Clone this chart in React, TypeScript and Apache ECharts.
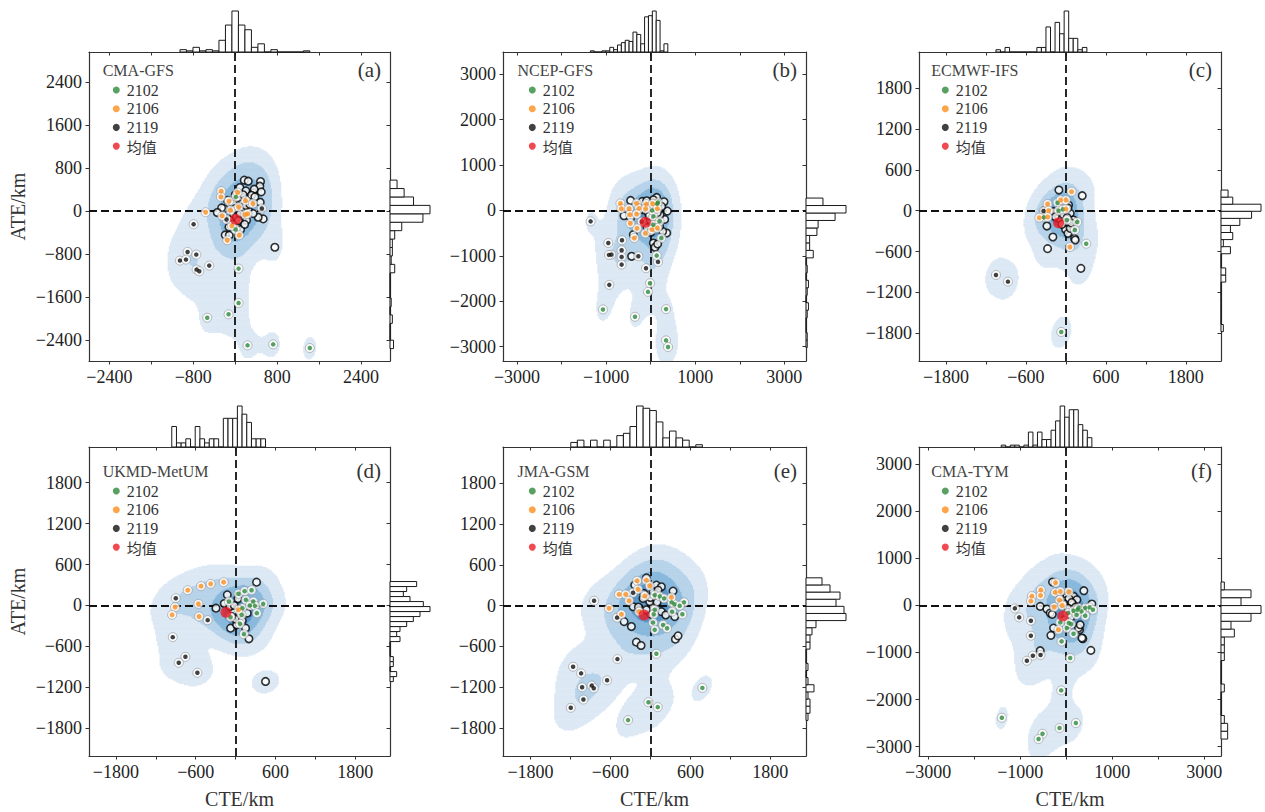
import React, { useEffect, useRef } from "react";
import * as echarts from "echarts";

// ---------------- panel meta ----------------
const panelNames = ["CMA-GFS", "NCEP-GFS", "ECMWF-IFS", "UKMD-MetUM", "JMA-GSM", "CMA-TYM"];
const panelTags = ["(a)", "(b)", "(c)", "(d)", "(e)", "(f)"];
const axisMin = [-2790, -3315, -2205, -2205, -2212, -3200];
const axisMax = [2953, 3487, 2328, 2322, 2335, 3365];
const ticks2400 = [-2400, -1600, -800, 0, 800, 1600, 2400];
const ticks3000 = [-3000, -2000, -1000, 0, 1000, 2000, 3000];
const ticks1800 = [-1800, -1200, -600, 0, 600, 1200, 1800];
const xLabels2400 = [-2400, -800, 800, 2400];
const xLabels3000 = [-3000, -1000, 1000, 3000];
const xLabels1800 = [-1800, -600, 600, 1800];
const panelTicks = [ticks2400, ticks3000, ticks1800, ticks1800, ticks1800, ticks3000];
const panelXLabels = [xLabels2400, xLabels3000, xLabels1800, xLabels1800, xLabels1800, xLabels3000];

// ---------------- (a) CMA-GFS ----------------
const a2102 = [[64, -1073], [64, -1712], [-127, -1922], [-534, -1985], [235, -2499], [724, -2481], [1423, -2549], [6, -347], [13, 260]];
const a2106 = [[-267, 366], [-273, 260], [-121, 180], [44, 341], [197, 192], [337, 136], [64, 74], [-565, -25], [-89, 12], [-248, -93], [191, -68], [235, -56], [-64, -279], [76, -453], [-152, -546]];
const a2119Dots = [[-794, -248], [-909, -763], [-1055, -924], [-940, -905], [-743, -812], [-737, -1091], [-686, -1122], [-496, -1017], [508, 43], [-165, -160]];
const a2119Rings = [[172, 571], [248, 552], [483, 546], [470, 459], [89, 434], [203, 372], [343, 335], [496, 353], [362, 403], [267, 217], [477, 161], [534, -149], [438, -118], [756, -676], [-216, 43], [-260, 56], [-343, -31], [-146, 198], [-38, 136], [152, 12], [248, 25], [133, -143], [216, -174], [-191, -447], [-114, -453], [38, -298], [102, -347], [-38, -50], [-102, -174], [25, -112], [89, -50], [311, 291], [375, 260], [-6, 43], [121, 198], [343, -50], [0, 300], [60, 250], [150, 300], [200, 100], [280, 120], [-60, -250], [60, -180], [180, -250], [-120, -300]];
const aMean = [[6, -155]];
const aHistXCounts = [2, 1, 4, 1, 2, 1, 10, 23, 35, 23, 19, 4, 7, 0, 2, 0, 0, 0, 0, 1];
const aHistYCounts = [3, 0, 0, 2, 0, 1, 0, 0, 0, 4, 1, 2, 2, 4, 10, 28, 34, 20, 12, 6];

// ---------------- (b) NCEP-GFS ----------------
const b2102 = [[345, -2173], [-352, -2341], [-1071, -2180], [345, -2861], [390, -3007], [-15, -1602], [-60, -1793], [135, -995], [240, -607], [165, 176], [60, -132], [60, -315], [146, 147], [34, 0], [200, -240]];
const b2106 = [[-679, 154], [-657, 37], [-485, 37], [-315, 154], [-262, 44], [-97, 139], [45, 146], [150, 37], [-464, -95], [-315, -80], [-112, 37], [-367, -607], [-120, -505], [-307, -395], [30, -424], [150, -388], [-457, -285]];
const b2119Dots = [[-1348, -241], [-951, -717], [-884, -973], [-936, -980], [-644, -658], [-652, -878], [-652, -1024], [-652, -1193], [-277, -1010], [-105, -1273], [165, -1134], [-929, -1639], [-200, -250]];
const b2119Rings = [[-450, 219], [-427, -1010], [-187, 198], [135, 285], [300, 190], [375, -15], [315, -198], [360, -497], [270, -461], [60, -717], [97, -812], [157, -739], [-599, -117], [-450, -168], [-390, -534], [-165, 15], [-52, -58], [-15, -205], [97, -227], [210, -95], [60, 234], [-240, 15], [-90, 212], [247, 88], [0, 100], [50, 50], [100, 120], [150, -50], [-30, -120], [100, -300], [200, -350], [-80, -380], [0, -480]];
const bMean = [[-120, -263]];
const bHistXCounts = [1, 0, 0, 1, 1, 4, 2, 6, 8, 10, 9, 17, 15, 7, 30, 31, 35, 27, 1, 7];
const bHistYCounts = [1, 1, 0, 0, 1, 2, 0, 1, 2, 0, 1, 0, 6, 3, 3, 9, 10, 24, 33, 14];

// ---------------- (c) ECMWF-IFS ----------------
const c2102 = [[-70, -1779], [305, -484], [170, -166], [135, -283], [15, -137], [-125, 117], [-110, 0], [-45, 20], [-330, -98]];
const c2106 = [[85, 279], [-80, 156], [0, 156], [-275, 98], [-260, 0], [-400, -103], [-275, -93], [60, -533], [0, 24]];
const c2119Dots = [[-1050, -943], [-870, -1041], [-335, -5]];
const c2119Rings = [[-105, 303], [245, 220], [-325, 0], [-285, -225], [-195, -386], [-275, -557], [-5, -274], [30, -332], [130, -406], [140, -430], [225, -846], [65, -259], [-135, -39], [-185, -15], [-85, 59], [40, 83], [65, -39], [115, -137], [-110, -112], [-160, -88], [-40, -60], [20, -100], [80, -180], [-60, -200], [30, 40], [-20, 120]];
const cMean = [[-110, -176]];
const cHistXCounts = [1, 0, 2, 0, 0, 0, 0, 0, 0, 2, 2, 11, 0, 13, 8, 18, 6, 6, 1, 2];
const cHistYCounts = [1, 0, 0, 0, 0, 0, 0, 2, 2, 0, 0, 4, 1, 5, 4, 8, 13, 17, 5, 3];

// ---------------- (d) UKMD-MetUM ----------------
const d2102 = [[45, 171], [135, 210], [240, 224], [-100, 59], [155, 83], [265, 59], [415, 24], [100, -39], [215, 0], [290, -5], [320, -112], [90, -137], [-75, -171], [65, -268], [125, -420]];
const d2106 = [[-180, 342], [-375, 317], [-520, 283], [-720, 224], [-560, 24], [-910, -24], [-955, -137], [-550, -161], [45, -63]];
const d2119Dots = [[-900, 107], [-420, -215], [-945, -464], [-755, -752], [-855, -839], [-575, -986]];
const d2119Rings = [[315, 342], [-125, 156], [-295, -39], [-170, 29], [35, 98], [175, -112], [150, -332], [-75, -332], [15, -283], [200, -488], [450, -1113], [-35, -88], [-85, -15], [-20, 0], [60, -120], [0, -200], [-60, -160], [100, -220]];
const dMean = [[-145, -98]];
const dHistXCounts = [5, 1, 1, 2, 0, 5, 2, 1, 2, 2, 0, 7, 7, 7, 10, 8, 6, 2, 2, 2];
const dHistYCounts = [1, 2, 0, 1, 1, 0, 0, 0, 3, 2, 3, 5, 7, 9, 12, 10, 6, 4, 5, 8];

// ---------------- (e) JMA-GSM ----------------
const e2102 = [[90, -708], [-30, -1420], [110, -1493], [-335, -1684], [780, -1210], [65, 156], [140, 137], [205, 107], [320, 49], [360, 20], [505, 49], [480, -127], [325, -88], [65, -59], [50, -127], [40, -249], [65, -356], [190, -283], [250, -332], [440, 0]];
const e2106 = [[-200, 366], [-60, 376], [-10, 293], [-185, 239], [-470, 166], [-370, 166], [-320, 73], [-85, 142], [-620, -39], [-435, -127], [-170, -88], [315, 122]];
const e2119Dots = [[-845, 73], [-495, -786], [-1160, -898], [-1040, -996], [-1025, -1201], [-880, -1176], [-850, -1215], [-650, -1098], [-1005, -1381], [-1195, -1503], [-500, -176], [-260, 190]];
const e2119Rings = [[-210, -537], [-140, -586], [375, -493], [415, -444], [-395, -234], [-285, -307], [340, 215], [-60, 410], [90, 303], [165, 278], [-235, 303], [-260, -15], [-160, -88], [40, -15], [165, -88], [230, -137], [365, -161], [-10, 59], [-110, 107], [40, 205], [115, 229], [-100, 180], [0, 120], [-180, -20], [100, 50], [0, -120], [-60, -60]];
const eMean = [[-95, -137]];
const eHistXCounts = [2, 3, 0, 3, 0, 3, 0, 5, 6, 9, 18, 17, 16, 11, 4, 7, 4, 3, 0, 1];
const eHistYCounts = [1, 2, 2, 1, 4, 1, 0, 1, 0, 0, 2, 2, 3, 5, 20, 19, 15, 17, 12, 8];

// ---------------- (f) CMA-TYM ----------------
const f2102 = [[-109, -1806], [-1399, -2387], [-145, -2606], [210, -2500], [-514, -2727], [-601, -2840], [87, -1119], [-101, -765], [-130, -361], [14, -482], [159, -602], [43, -163], [159, -113], [268, -57], [413, -57], [507, -42], [580, -92], [413, -220], [333, -127], [225, -198], [101, -397], [58, -375], [246, -92]];
const f2106 = [[-232, 482], [-551, 326], [-558, 212], [-746, 198], [-768, 92], [-239, 276], [-130, 297], [58, 290], [-145, 113], [-261, -35], [-87, 0], [-167, -517]];
const f2119Dots = [[-1116, -64], [-1022, -255], [-768, -326], [-768, -644], [-725, -1069], [-855, -1176], [-558, -1055]];
const f2119Rings = [[-297, 496], [384, 312], [-565, -21], [-420, -78], [-348, -163], [-304, -191], [-275, -482], [-333, -637], [290, -517], [362, -708], [341, -694], [536, -956], [-565, -963], [558, 28], [87, 227], [159, 191], [232, 120], [-22, 156], [268, -482], [304, -411], [-130, 156], [159, 14], [87, 85], [14, 191], [0, 100], [60, 150], [120, 60], [-60, 40], [200, -40], [40, -60], [100, -250], [-30, -300]];
const fMean = [[-72, -227]];
const fHistXCounts = [1, 0, 1, 1, 0, 1, 8, 1, 8, 4, 4, 9, 14, 22, 16, 20, 20, 12, 9, 5];
const fHistYCounts = [2, 2, 1, 0, 0, 0, 1, 0, 0, 0, 1, 1, 1, 4, 3, 9, 12, 6, 9, 1];

// histogram bin starts / widths (data units)
const histXStart = [-1054, -1353, -1050, -960, -1195, -1413];
const histXWidth = [123.9, 86.9, 68.25, 70.5, 98.75, 98.55];
const histYStart = [-2560, -3020, -1774, -1115, -1688, -2840];
const histYWidth = [156.6, 164.6, 103.85, 73.3, 104.9, 166.85];

const panels = [
  { s2102: a2102, s2106: a2106, dots: a2119Dots, rings: a2119Rings, mean: aMean, hx: aHistXCounts, hy: aHistYCounts },
  { s2102: b2102, s2106: b2106, dots: b2119Dots, rings: b2119Rings, mean: bMean, hx: bHistXCounts, hy: bHistYCounts },
  { s2102: c2102, s2106: c2106, dots: c2119Dots, rings: c2119Rings, mean: cMean, hx: cHistXCounts, hy: cHistYCounts },
  { s2102: d2102, s2106: d2106, dots: d2119Dots, rings: d2119Rings, mean: dMean, hx: dHistXCounts, hy: dHistYCounts },
  { s2102: e2102, s2106: e2106, dots: e2119Dots, rings: e2119Rings, mean: eMean, hx: eHistXCounts, hy: eHistYCounts },
  { s2102: f2102, s2106: f2106, dots: f2119Dots, rings: f2119Rings, mean: fMean, hx: fHistXCounts, hy: fHistYCounts },
];

// ---------------- styles / layout ----------------
const SERIF = "Liberation Serif";
const CJK = "Noto Sans CJK SC";
const GREEN = "#2f8a3b";
const ORANGE = "#ff8f1c";
const BLACK = "#111111";
const RED = "#ec1c24";
const KDE_COLORS = ["#dce9f5", "#b7d3ea", "#88b9dc", "#5895c8"];
const ISO_PROPS = [0.05, 0.2875, 0.525, 0.7625];
const colLeft = [89, 503, 919];
const colW = [301, 303, 302];
const rowTop = [52, 447];
const boxH = 309;
const histH = 42;
const histW = 41;
const legendDx = [23.8, 25.8, 22.8];
const titleDx = [13.7, 14.5, 12.3];

const fmt = (v: number) => (v < 0 ? "\u2212" + Math.abs(v) : String(v));
const legendRich = {
  t: { fontFamily: SERIF, fontSize: 16, color: "#333", padding: [0, 0, 0, 2] },
  c: { fontFamily: CJK, fontSize: 15, color: "#333", padding: [0, 0, 0, 2] },
};

// Gaussian KDE (Scott's rule, full covariance) -> filled iso-proportion bands as row runs
function kdeRuns(pts: number[][], lo: number, hi: number): number[][] {
  const n = pts.length;
  let mx = 0, my = 0;
  pts.forEach((p) => { mx += p[0]; my += p[1]; });
  mx /= n; my /= n;
  let sxx = 0, syy = 0, sxy = 0;
  pts.forEach((p) => {
    const dx = p[0] - mx, dy = p[1] - my;
    sxx += dx * dx; syy += dy * dy; sxy += dx * dy;
  });
  sxx /= n - 1; syy /= n - 1; sxy /= n - 1;
  const f2 = Math.pow(n, -1 / 3);
  const a = sxx * f2, b = sxy * f2, c = syy * f2;
  const det = a * c - b * b;
  const ia = c / det, ib = -b / det, ic = a / det;
  const N = 260;
  const step = (hi - lo) / N;
  const dens = new Float64Array(N * N);
  for (let j = 0; j < N; j++) {
    const y = lo + (j + 0.5) * step;
    for (let i = 0; i < N; i++) {
      const x = lo + (i + 0.5) * step;
      let s = 0;
      for (let k = 0; k < n; k++) {
        const dx = x - pts[k][0], dy = y - pts[k][1];
        const q = ia * dx * dx + 2 * ib * dx * dy + ic * dy * dy;
        if (q < 40) s += Math.exp(-0.5 * q);
      }
      dens[j * N + i] = s;
    }
  }
  const sorted = Array.from(dens).sort((u, v) => v - u);
  let total = 0;
  sorted.forEach((v) => (total += v));
  const levels = ISO_PROPS.map((p) => {
    const target = (1 - p) * total;
    let cum = 0;
    for (let i = 0; i < sorted.length; i++) {
      cum += sorted[i];
      if (cum >= target) return sorted[i];
    }
    return sorted[sorted.length - 1];
  });
  const runs: number[][] = [];
  levels.forEach((lev, k) => {
    for (let j = 0; j < N; j++) {
      let i = 0;
      while (i < N) {
        if (dens[j * N + i] >= lev) {
          const i0 = i;
          while (i < N && dens[j * N + i] >= lev) i++;
          runs.push([lo + i0 * step, lo + i * step, lo + j * step, lo + (j + 1) * step, k]);
        } else i++;
      }
    }
  });
  return runs;
}

const renderKde = (params: any, api: any) => {
  const p0 = api.coord([api.value(0), api.value(3)]);
  const p1 = api.coord([api.value(1), api.value(2)]);
  return {
    type: "rect",
    shape: { x: p0[0], y: p0[1], width: p1[0] - p0[0], height: p1[1] - p0[1] + 0.6 },
    style: { fill: KDE_COLORS[api.value(4)] },
  };
};

const renderHistTop = (params: any, api: any) => {
  const a = api.coord([api.value(0), api.value(2)]);
  const b = api.coord([api.value(1), 0]);
  return {
    type: "rect",
    shape: { x: a[0], y: a[1], width: b[0] - a[0], height: b[1] - a[1] },
    style: { fill: "#fff", stroke: "#1a1a1a", lineWidth: 1 },
  };
};

const renderHistRight = (params: any, api: any) => {
  const a = api.coord([0, api.value(2)]);
  const b = api.coord([api.value(0), api.value(1)]);
  return {
    type: "rect",
    shape: { x: a[0], y: a[1], width: b[0] - a[0], height: b[1] - a[1] },
    style: { fill: "#fff", stroke: "#1a1a1a", lineWidth: 1 },
  };
};

function buildOption() {
  const grid: any[] = [], xAxis: any[] = [], yAxis: any[] = [], series: any[] = [], legend: any[] = [], title: any[] = [];
  const spine = { show: true, onZero: false, lineStyle: { color: "#333", width: 1.2 } };
  panels.forEach((P, p) => {
    const r = Math.floor(p / 3), c = p % 3;
    const L = colLeft[c], T = rowTop[r], W = colW[c];
    const lo = axisMin[p], hi = axisMax[p];
    const g0 = grid.length;
    grid.push({ left: L, top: T, width: W, height: boxH });
    grid.push({ left: L, top: T - histH, width: W, height: histH });
    grid.push({ left: L + W, top: T, width: histW, height: boxH });
    const xi = xAxis.length, yi = yAxis.length;
    const labelStyle = { fontSize: 18, fontFamily: SERIF, color: "#222", formatter: fmt };
    const tickStyle = { show: true, length: 3.5, lineStyle: { color: "#333", width: 1 }, customValues: panelTicks[p] };
    xAxis.push({
      type: "value", gridIndex: g0, min: lo, max: hi, position: "bottom",
      axisLine: spine, axisTick: { ...tickStyle, inside: false },
      axisLabel: { ...labelStyle, margin: 7, customValues: panelXLabels[p] },
      splitLine: { show: false },
      name: r === 1 ? "CTE/km" : "", nameLocation: "middle", nameGap: 33,
      nameTextStyle: { fontSize: 20, fontFamily: SERIF, color: "#333" },
    });
    xAxis.push({
      type: "value", gridIndex: g0, min: lo, max: hi, position: "top",
      axisLine: spine, axisTick: { ...tickStyle, inside: true },
      axisLabel: { show: false }, splitLine: { show: false },
    });
    const hxMax = Math.max(...P.hx), hyMax = Math.max(...P.hy);
    xAxis.push({ type: "value", gridIndex: g0 + 1, min: lo, max: hi, show: false });
    xAxis.push({ type: "value", gridIndex: g0 + 2, min: 0, max: (hyMax * histW) / 40, show: false });
    yAxis.push({
      type: "value", gridIndex: g0, min: lo, max: hi, position: "left",
      axisLine: spine, axisTick: { ...tickStyle, inside: false },
      axisLabel: { ...labelStyle, margin: 7, customValues: panelTicks[p] },
      splitLine: { show: false },
      name: c === 0 ? "ATE/km" : "", nameLocation: "middle", nameGap: 61,
      nameTextStyle: { fontSize: 20, fontFamily: SERIF, color: "#333" },
    });
    yAxis.push({
      type: "value", gridIndex: g0, min: lo, max: hi, position: "right",
      axisLine: spine, axisTick: { ...tickStyle, inside: true },
      axisLabel: { show: false }, splitLine: { show: false },
    });
    yAxis.push({ type: "value", gridIndex: g0 + 1, min: 0, max: (hxMax * histH) / 41, show: false });
    yAxis.push({ type: "value", gridIndex: g0 + 2, min: lo, max: hi, show: false });

    const all = [...P.s2102, ...P.s2106, ...P.dots, ...P.rings];
    series.push({
      type: "custom", name: "kde", xAxisIndex: xi, yAxisIndex: yi, clip: true, silent: true, z: 1,
      data: kdeRuns(all, lo, hi), encode: { x: [0, 1], y: [2, 3] }, renderItem: renderKde,
      markLine: {
        silent: true, symbol: ["none", "none"], label: { show: false },
        lineStyle: { color: "#111", type: [8, 4], width: 1.8 },
        data: [{ xAxis: 0 }, { yAxis: 0 }],
      },
    });
    series.push({
      type: "scatter", name: "2119", xAxisIndex: xi, yAxisIndex: yi, data: P.rings, symbol: "circle",
      symbolSize: 7.5, itemStyle: { color: "#fff", borderColor: "#000", borderWidth: 1.6 }, z: 6, silent: true,
    });
    series.push({
      type: "scatter", name: "halo", xAxisIndex: xi, yAxisIndex: yi, data: [...P.dots, ...P.s2102, ...P.s2106],
      symbol: "circle", symbolSize: 9, itemStyle: { color: "#fff", borderColor: "#8a8a8a", borderWidth: 0.7 }, z: 7, silent: true,
    });
    series.push({ type: "scatter", name: "2119", xAxisIndex: xi, yAxisIndex: yi, data: P.dots, symbol: "circle", symbolSize: 4.5, itemStyle: { color: BLACK }, z: 8, silent: true });
    series.push({ type: "scatter", name: "2102", xAxisIndex: xi, yAxisIndex: yi, data: P.s2102, symbol: "circle", symbolSize: 4.5, itemStyle: { color: GREEN }, z: 8, silent: true });
    series.push({ type: "scatter", name: "2106", xAxisIndex: xi, yAxisIndex: yi, data: P.s2106, symbol: "circle", symbolSize: 5, itemStyle: { color: ORANGE }, z: 8, silent: true });
    series.push({ type: "scatter", name: "均值", xAxisIndex: xi, yAxisIndex: yi, data: P.mean, symbol: "circle", symbolSize: 11, itemStyle: { color: RED }, z: 9, silent: true });

    series.push({
      type: "custom", name: "histX", xAxisIndex: xi + 2, yAxisIndex: yi + 2, silent: true,
      data: P.hx.map((cnt, i) => [histXStart[p] + i * histXWidth[p], histXStart[p] + (i + 1) * histXWidth[p], cnt]),
      encode: { x: [0, 1], y: 2 }, renderItem: renderHistTop,
    });
    series.push({
      type: "custom", name: "histY", xAxisIndex: xi + 3, yAxisIndex: yi + 3, silent: true,
      data: P.hy.map((cnt, i) => [cnt, histYStart[p] + i * histYWidth[p], histYStart[p] + (i + 1) * histYWidth[p]]),
      encode: { x: 0, y: [1, 2] }, renderItem: renderHistRight,
    });

    legend.push({
      orient: "vertical", left: L + legendDx[c], top: T + (r ? 36 : 30), padding: 0,
      itemWidth: 7, itemHeight: 7, itemGap: 2.7, selectedMode: false, icon: "circle",
      formatter: (name: string) => (/^\d+$/.test(name) ? "{t|" + name + "}" : "{c|" + name + "}"),
      textStyle: { fontSize: 16, lineHeight: 16, fontFamily: SERIF, color: "#333", rich: legendRich },
      data: [
        { name: "2102", itemStyle: { color: GREEN, borderWidth: 0 } },
        { name: "2106", itemStyle: { color: ORANGE, borderWidth: 0 } },
        { name: "2119", itemStyle: { color: BLACK, borderWidth: 0 } },
        { name: "均值", itemStyle: { color: RED, borderWidth: 0 } },
      ],
    });
    title.push({
      text: panelNames[p], left: L + titleDx[c], top: T + (r ? 16 : 10), padding: 0,
      textStyle: { fontSize: 16, fontWeight: "normal", fontFamily: SERIF, color: "#444" },
    });
    title.push({
      text: panelTags[p], right: 1265 - (L + W - 9), top: T + (r ? 13 : 7), padding: 0,
      textStyle: { fontSize: 21, fontWeight: "normal", fontFamily: SERIF, color: "#333" },
    });
  });
  return {
    animation: false, backgroundColor: "#fff",
    textStyle: { fontFamily: SERIF },
    grid, xAxis, yAxis, series, legend, title,
  };
}

export default function App() {
  const ref = useRef<HTMLDivElement>(null);
  useEffect(() => {
    if (!ref.current) return;
    const chart = echarts.init(ref.current, undefined, { renderer: "svg" });
    chart.setOption(buildOption() as any);
    return () => chart.dispose();
  }, []);
  return <div ref={ref} style={{ position: "fixed", left: 0, top: 0, width: 1265, height: 812 }} />;
}
